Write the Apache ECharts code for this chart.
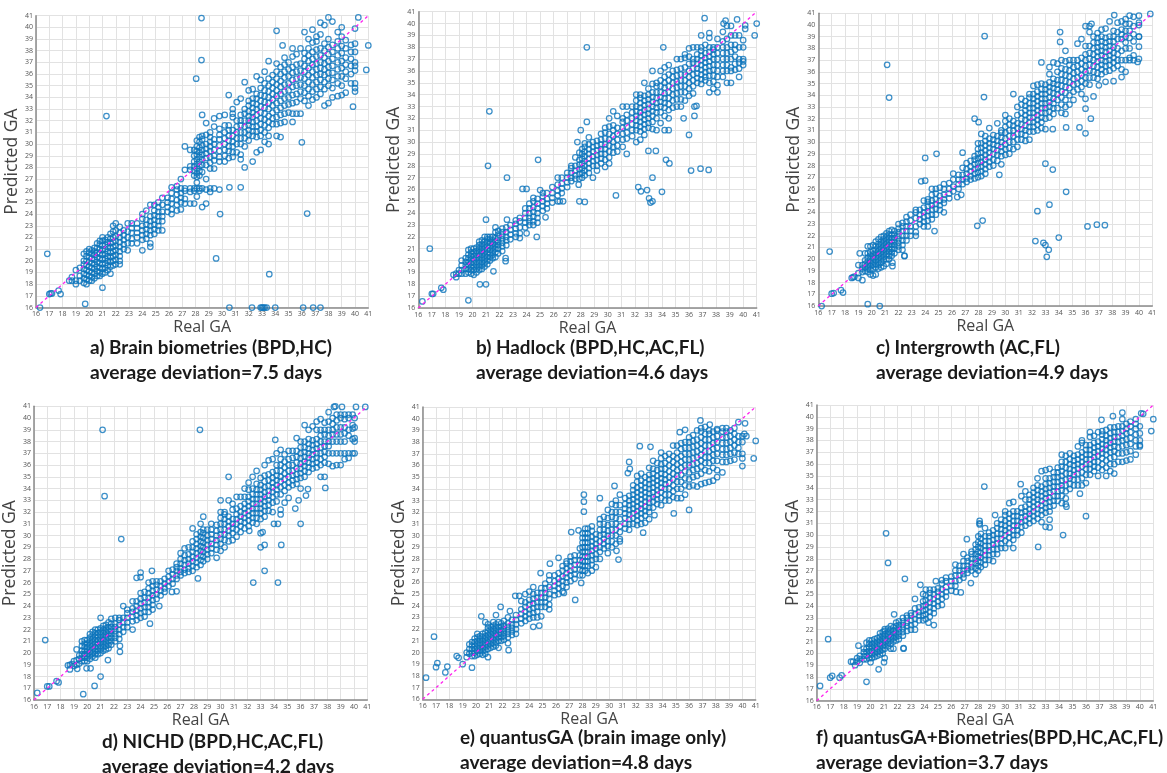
<!DOCTYPE html>
<html><head><meta charset="utf-8">
<style>html,body{margin:0;padding:0;background:#fff;overflow:hidden}#c{width:1167px;height:773px;filter:blur(0.35px)}</style>
<script src="https://cdn.jsdelivr.net/npm/echarts@6/dist/echarts.min.js"></script></head>
<body><div id="c"></div><script>
const xTitle='Real GA', yTitle='Predicted GA';
const identity=[[16,16],[41,41]];
const outA=[[16.3,16],[16.85,20.6],[17,17.15],[17.1,17.2],[17.2,17.2],[17.7,17.45],[17.85,17.15],[19.7,16.3],[21,17.7],[21.3,32.4],[28.05,35.6],[28.45,37.2],[28.45,40.8],[29.55,20.2],[29.85,24],[30.55,16],[31.4,26.3],[30.55,26.3],[32.25,16],[32.9,16],[33,16],[33.1,16],[33.2,16],[33.35,16],[33.55,18.85],[34,16],[36,30.15],[36.1,16],[36.4,24.05],[36.85,16],[37.4,16],[34.1,39.7],[38,40.85],[40.25,40.85],[41,38.45],[40.85,36.35],[39.85,33.2],[34.55,38.45]];
const outB=[[16.3,16.55],[16.85,21],[17,17.2],[17.1,17.2],[17.7,17.7],[17.85,17.55],[19.7,16.65],[20.55,18],[21,18],[21.55,19.1],[21,23.45],[21.25,32.6],[21.15,28],[22.55,27],[22.45,20.2],[22.45,19.95],[22.55,23.45],[24.75,22],[24,22.3],[23.7,26.05],[24,26.05],[24.85,28.5],[25.4,23.65],[25,25.95],[28.45,38],[28.45,31.7],[28,31],[27.75,30],[27.9,25],[27.85,26.4],[28.3,24.95],[26.7,25],[26.3,25],[26.45,25],[30.6,25.5],[32.25,26.2],[32.45,25.85],[32.9,25.95],[33.05,25.25],[33.15,24.9],[33.3,25],[33.3,27],[33.55,29.25],[33,29.25],[34,25.8],[34.3,28.5],[34.55,28.2],[36.15,27.6],[36.85,27.75],[37.45,27.65],[36,30.6],[36.4,32.2],[35.6,32],[36.4,33],[36.55,33.05],[34.1,38],[37.15,40.45],[39.55,40.35],[41,40],[40.85,39],[40.15,39.55],[40.15,39.85],[38.7,40.25],[38.55,40]];
const outC=[[16.25,16],[16.85,20.65],[17,17.05],[17.15,17.1],[17.7,17.35],[17.85,17.15],[18.5,18.4],[18.6,18.45],[19,18.4],[19.3,18.2],[19.7,16.15],[20.6,16],[19.1,20.5],[21.15,36.6],[21.3,33.8],[22.45,20.25],[22.45,20.3],[21.55,19.4],[21.55,19.7],[24,28.65],[24.85,29],[23.7,26.65],[24,26.7],[24.7,22.4],[28.45,39.05],[28.4,33.85],[27.7,32],[28,31.7],[27.9,22.85],[28.3,23.3],[29.55,27.2],[29.7,28.1],[25.4,24],[26.4,25.3],[26.7,25.5],[32.25,21.55],[32.85,21.4],[33,21.2],[33.25,20.8],[33.1,20.2],[34,21.85],[32.4,24.1],[33.3,24.65],[34.55,25.75],[33,28.15],[33.55,27.65],[36.15,22.8],[36.85,22.95],[37.45,22.9],[36,30.75],[35.55,31.25],[34.55,31.25],[33.55,31.1],[36.4,32],[36,32.85],[34.1,39.4],[34.1,38.55],[40.85,40.95],[38.15,40.85],[36.45,40.1],[36,39.9],[40,38.15],[40,39],[38.7,35.55],[39.9,36.85],[37,34.85],[37.5,35.15],[38.1,35.2],[32.7,36.8]];
const outD=[[16.25,16.6],[16.85,21.1],[17,17.15],[17.15,17.15],[17.7,17.6],[17.85,17.5],[19.7,16.5],[20.55,17.2],[21,18],[21.55,19.4],[18.7,18.6],[18.55,18.95],[18.7,19],[18.85,19.05],[19.25,18.65],[19.95,18.7],[20.25,18.7],[22.45,20.1],[22.45,20.6],[21.15,39],[21.3,33.35],[22.55,29.7],[28.45,39],[28.3,26.35],[30.6,35],[24.85,27],[24,26.85],[23.7,26.4],[24,26.45],[24.7,22.5],[25.4,24],[26.35,25.2],[26.7,25.25],[32.45,26],[34.3,26],[33.3,27],[33,29],[33.3,29.2],[34.55,29.2],[32.15,30.4],[33,30.2],[33.15,30.3],[34,31],[34.3,31],[36,31],[35.6,32.3],[36.4,33.4],[35.85,33],[36.55,33.95],[37.85,34.05],[34.1,38.15],[40.85,40.95],[40.15,40.95],[39.1,40.95],[38.6,41],[38.5,40.95]];
const outE=[[16.25,17.85],[16.85,21.35],[17,18.75],[17.1,19.1],[17.7,18.3],[17.85,18.8],[19.7,18.7],[19,19],[18.55,19.7],[18.7,19.55],[22.45,20.2],[22.4,20.8],[20.4,23.1],[21.85,23.9],[22.55,23.55],[24.75,22.3],[27.45,24.5],[26.6,25.1],[27.9,25.95],[22.95,24.85],[23.25,24.85],[24.85,26.8],[25.55,27.6],[27.15,30.3],[27.7,30.45],[28.1,33.5],[28.1,32.9],[28.1,32.05],[29.3,33.2],[30.4,34.25],[30.7,27.95],[30.55,28.7],[31.4,35.35],[31.55,35.7],[31.5,36.3],[32.3,37.65],[33.1,37.6],[32.55,30.25],[33.4,31.75],[34.85,31.9],[36,32.2],[35.3,38.85],[35.7,39.05],[36.85,39.85],[37.55,39.5],[40.2,39.6],[41,38.1],[40.85,36.6],[40,35.95],[40.3,38.5],[40.15,38.7]];
const outF=[[16.25,17.25],[16.85,21.2],[17,17.95],[17.15,18.1],[17.7,17.95],[17.85,18.15],[19.7,17.6],[18.55,19.3],[18.7,19.3],[18.85,19],[20.6,18.65],[21,19.25],[20,19.25],[19.1,20.65],[21.15,30.15],[21.3,27.65],[22.55,26.3],[22.45,20.45],[22.45,20.4],[21.75,23.3],[24.7,22.4],[24.3,22.6],[24.85,26.1],[23.7,25.8],[27.45,25.95],[26.7,25.15],[26.35,25.2],[27.15,29.65],[28.45,34.1],[28.1,31.2],[28.1,31],[28.1,30.9],[29.25,31.7],[30.6,28.9],[32.45,29],[34.3,30],[33,30.7],[33.3,30.65],[33.3,31.3],[36,31.6],[31.15,34.3],[37.15,39.75],[38,40.05],[38.7,40.35],[40.1,40.3],[40.25,40.25],[41,39.8],[40.85,38.8],[34.55,32.4],[35.55,33.5]];
// cloud columns: [real GA, predicted GA values read at that column]
const cloudA=[[18.5,18.3],[18.7,18.3,18.6],[19,18,18.3,19.2],[19.3,18.3,18.7,19.4],[19.6,18.1,18.5,18.9,19.3,19.7,20,20.6],[19.8,18,18.4,18.8,19.2,19.6,20,20.4,20.8],[20,18.3,18.7,19.1,19.5,19.9,20.3,20.7,21],[20.2,18.3,18.6,19,19.4,19.8,20.2,20.6,20.9],[20.4,18.5,18.9,19.3,19.7,20.1,20.5,20.8,21.1],[20.6,18.7,19.1,19.5,19.9,20.3,20.7,21.1,21.5],[20.8,18.7,19,19.4,19.8,20.2,20.6,21,21.4,21.7],[21,18.9,19.3,19.7,20.1,20.5,20.9,21.3,21.7,22],[21.2,19,19.4,19.8,20.2,20.6,21,21.4,21.8],[21.4,19.2,19.6,20,20.4,20.8,21.2,21.6,22],[21.6,18.9,19.5,19.9,20.3,20.7,21.1,21.5,21.9,22.3],[21.8,19.6,20,20.4,20.8,21.2,21.6,22,22.5,23],[22,19.7,20.1,20.5,20.9,21.3,21.7,22.1,22.6,23.2],[22.3,19.7,20,20.4,20.8,21.2,21.6,22,22.4,22.9],[22.6,21,21.4,21.8,22.2,22.6],[22.9,20.9,21.5,22,22.5,23.2],[23.2,21.5,21.9,22.4,22.8,23.2],[23.6,21.5,22,22.4,22.8,23.2],[24,20.9,21.8,22.2,22.6,23,23.6,24],[24.3,21.9,22.3,22.7,23.1,23.5,24.3],[24.6,21.2,21.5,22.2,22.6,23,23.4,23.8,24.8],[24.9,22.3,22.7,23.1,23.5,23.9,24.3,24.8],[25.2,22.6,23,23.4,23.8,24.2,24.6,25],[25.5,22.6,23.4,23.8,24.2,24.8,25.4],[25.9,24.2,24.6,25,25.4],[26.2,24,24.4,24.9,25.3,25.8,26.3],[26.6,24.3,24.8,25.2,25.7,26.1,26.4],[26.9,24.4,25,25.4,25.8,26.2,27],[27.2,24.9,25.3,26,26.2,27.8,29.8],[27.6,24.9,25.9,26.2,27.8,28.1,29.5],[27.9,24.9,26,26.2,27.3,27.7,28.1,28.5,29,29.5],[28.1,25.5,26.2,26.7,27.2,27.5,27.9,28.3,28.7,29.1,29.4,29.8,30.3],[28.3,26,26.2,27.3,27.7,28.1,28.5,28.9,29.3,29.7,30.2,30.6],[28.5,24.6,26.2,27.6,28.2,28.7,29.1,29.5,29.9,30.4,30.7,32.5],[28.8,24.9,26.1,27,28.2,28.8,29.2,29.6,30,30.8,31.8],[29.1,25.9,26.2,27.9,28.4,28.9,29.4,29.8,30.2,30.6,31],[29.4,26.2,27.9,28.6,29,29.5,30,30.4,31.5,32.2],[29.8,26.1,28.5,28.9,29.4,29.9,30.4,30.8,31.3,32.4],[30.2,28.5,29,29.5,30,30.5,31,31.6,32.5],[30.5,28.8,29.4,29.8,30.3,30.7,31.2,31.6,34.2],[30.8,28.9,29.3,29.8,30.2,30.7,31.2,32.3,33,32.6],[31.1,29.3,30,30.5,31,31.5,32,33.6],[31.4,28.7,29.1,30,30.5,31,31.6,32,32.5,33.9],[31.7,28,29.8,30.5,31,31.5,32,32.6,33,35.3],[32,30.3,30.8,31.2,31.6,32,32.4,32.8,33.3,33.7,34.6],[32.3,28.5,30.7,31.1,31.5,31.9,32.3,32.7,33.1,33.5,33.9,34.7],[32.6,29.3,30.6,31.1,31.5,32,32.5,33,33.4,33.9,34.3,35.8],[32.9,29.5,30.7,31.2,31.7,32.2,32.7,33.2,33.7,34.2,34.8,35.5],[33.2,30.2,31,31.6,32.1,32.6,33.1,33.6,34.1,34.6,35.2,36.2],[33.5,30,30.7,31.4,31.9,32.4,33,33.5,34,34.5,35,35.6,37.1],[33.8,31.7,32.2,32.7,33.3,33.8,34.3,34.8,35.3,35.9],[34.1,30.7,31.7,32.3,32.9,33.5,34.1,34.6,35.1,35.6,36.2,36.9],[34.4,31.8,32.5,33.1,33.7,34.3,34.9,35.4,36,36.6,30.6],[34.7,31.9,32.6,33.3,33.9,34.5,35.1,35.7,36.2,36.8,37.4],[35,32.7,33.4,34,34.6,35.2,35.8,36.4,37],[35.3,31.9,32.6,33.5,34.2,34.9,35.5,36.1,36.6,37.5,38.2],[35.6,32.6,33.6,34.3,35,35.6,36.2,36.8,37.7],[35.9,33.9,34.5,35.1,35.7,36.3,36.9,38.2,32.6],[36.2,33.7,34.4,35,35.6,36.2,36.7,37.3,37.8,39.6],[36.5,33.3,34.1,34.7,35.3,35.9,36.5,37.1,37.6,38.2,39],[36.8,33.8,34.5,35.1,35.7,36.2,36.8,37.3,37.9,38.7,39.8],[37.1,34,34.7,35.3,35.9,36.4,36.9,37.5,38.1,38.8,39.2],[37.4,34.3,34.9,35.5,36,36.5,37,37.6,38.2,39.4,40.4],[37.7,33.3,34.7,35.3,35.9,36.4,36.9,37.4,38,38.6,40.2],[38,33.5,35,35.6,36.1,36.6,37.1,37.7,38.3,39],[38.3,34,34.8,35.5,36.1,36.7,37.3,37.9,38.5,40.5],[38.7,34.1,35.2,35.8,36.4,37,37.6,38.2,38.8,39.6],[39,34.2,35,35.8,36.5,37.1,37.8,38.4,39.2,40],[39.3,34.4,35.6,36.2,36.8,37.4,38.2,38.9],[39.7,35.2,36,36.7,37.3,37.9,38.5],[40,34.5,34.8,35.2,36.3,36.7,37,37.9,38.6,39.9]];
const cloudB=[[18.6,18.8],[18.8,18.6,18.9],[19,18.9,19.2],[19.2,18.9,19.2,19.6,20],[19.5,18.9,19.3,19.6,19.9,20.2],[19.7,19,19.3,19.6,19.9,20.2,20.5,20.9],[19.9,18.9,19.2,19.5,19.8,20.1,20.4,20.7,21],[20.1,18.8,19.2,19.5,19.8,20.1,20.4,20.7,21],[20.3,19,19.3,19.6,19.9,20.2,20.5,20.8,21.1],[20.5,19.2,19.5,19.8,20.1,20.4,20.7,21,21.3,21.6],[20.7,19.3,19.6,19.9,20.2,20.5,20.8,21.1,21.4,21.7],[20.9,19.5,19.8,20.1,20.4,20.7,21,21.3,21.6,22],[21.1,19.7,20,20.3,20.6,20.9,21.2,21.5,21.8,22],[21.3,20,20.3,20.6,20.9,21.2,21.5,21.8,22],[21.5,20.2,20.5,20.8,21.1,21.4,21.7,22],[21.7,20.3,20.7,21,21.3,21.6,21.9,22.4,22.8],[21.9,20.6,21,21.3,21.6,21.9,22.2,22.5],[22.2,20.8,21.2,21.5,21.8,22.1,22.4,22.7],[22.5,21.3,21.7,22,22.4,22.8],[22.8,21.8,22.2,22.6,23],[23.2,22,22.3,22.7,23.1,23.4],[23.5,21.9,22.3,22.8,23.3,23.6],[23.9,22.8,23.2,23.6,24,24.4],[24.2,23,23.3,23.6,24,24.4,24.8],[24.5,23,23.3,23.7,24.1,24.5,25,25.3],[24.8,23.2,23.6,24,24.4,24.8,25.2],[25.2,24.2,24.6,25,25.4,25.7],[25.5,24.4,24.8,25.2,25.7],[25.9,24.9,25.3,25.7,26.2],[26.3,25.5,25.9,26.4,27],[26.6,25.7,26.1,26.5,27],[27,26.2,26.6,27,27.4],[27.3,26.7,27,27.4,27.8,28],[27.6,26.9,27.2,27.6,28,28.7],[27.9,26.9,27.3,27.7,28.1,28.5,29.1],[28.1,27,27.4,27.8,28.2,28.6,29,29.4],[28.3,27.2,27.6,28,28.4,28.8,29.2,29.6,29.9],[28.6,27.4,27.8,28.2,28.6,29,29.4,29.8,30.4],[28.9,27,28,28.4,28.8,29.2,29.6,30],[29.2,27.6,28,28.5,28.9,29.3,29.7,30.1],[29.5,28.2,28.6,29,29.4,29.8,30.2,30.7],[29.8,27.9,28.5,29,29.4,29.8,30.3,30.8,31.2],[30.1,28.2,28.7,29.2,29.7,30.2,30.7,31.3,32],[30.4,29.1,29.6,30,30.5,31,31.4,32.6],[30.7,29.2,29.7,30.2,30.7,31.2,32.2],[31.1,29.6,30.2,30.7,31.2,31.7,32,33],[31.4,29,30.3,30.8,31.3,31.8,32.3,33],[31.8,30.5,31,31.5,32,32.5,33],[32.1,30,31,31.4,31.8,32.2,32.6,33,33.5,34],[32.4,30.2,30.9,31.3,31.7,32.1,32.5,32.9,33.3,33.7,34],[32.7,30.6,31.1,31.5,31.9,32.3,32.7,33.1,33.5,33.9,35],[33,31.2,31.6,32,32.4,32.8,33.2,33.6,34,34.5],[33.3,31.1,31.7,32.2,32.6,33,33.4,33.8,34.2,34.9,36],[33.6,31,32,32.5,32.9,33.3,33.7,34.2,34.7,35],[33.9,31.6,32.5,33,33.4,33.8,34.2,34.7,35.2,36],[34.2,31,32.2,32.9,33.3,33.7,34.1,34.6,35,35.5,36.3],[34.5,31,32,32.7,33.2,33.7,34.2,34.7,35.2,35.7,36.5],[34.8,32.9,33.5,34,34.5,35,35.5,36],[35.1,33,33.6,34.1,34.6,35.1,35.6,36.1,37],[35.4,33,33.6,34.2,34.7,35.2,35.7,36.2,37],[35.7,33.5,34.2,34.7,35.2,35.7,36.3,37.1,37.4],[36,33.9,34.5,35,35.5,36,36.6,37.2,37.9],[36.3,34.1,34.7,35.2,35.7,36.2,36.7,37,38],[36.6,35,35.4,35.8,36.2,36.6,37,37.4,38],[36.9,34.9,35.3,35.7,36.1,36.5,36.9,37.3,37.7,38,39],[37.2,35.2,35.5,35.9,36.3,36.7,37.1,37.5,38.2],[37.5,34.2,35,35.6,36,36.4,36.8,37.2,37.6,38,39.2,38.8],[37.8,34.5,35.1,35.6,36.1,36.5,37,37.4,37.8,38],[38.1,34.2,34.8,35.5,36,36.5,37,37.5,38,38.7],[38.5,35.5,36,36.5,37,37.5,38,38.5,39.3],[38.8,35,36,36.5,37,37.5,38,38.7,39.8],[39.1,35,36,36.3,37,37.6,38.2,39,39.8],[39.4,36.1,36.6,37.2,37.8,38.2,39],[39.7,35.5,36.2,36.7,37,38,39],[40,36.5,36.8,37,38,38.6]];
const cloudC=[[18.7,18.5],[19,18.8,19.5],[19.3,18.9,19.2,19.5],[19.5,19,19.3,19.6,19.9,20.5],[19.7,18.9,19.2,19.5,19.8,20.1,20.5,21.1],[19.9,18.7,19.1,19.4,19.7,20,20.3,20.6,21.1],[20.1,18.6,19.2,19.5,19.8,20.1,20.4,20.7,21.2],[20.3,18.7,19.3,19.6,19.9,20.2,20.5,20.8,21.1,21.5],[20.5,19.2,19.5,19.8,20.1,20.4,20.7,21,21.3,21.7],[20.7,19.3,19.7,20,20.3,20.6,20.9,21.2,21.5,21.9],[20.9,19.4,19.9,20.2,20.5,20.8,21.1,21.4,21.7,22],[21.1,19.6,20,20.4,20.7,21,21.3,21.6,21.9,22.2],[21.3,20,20.3,20.6,20.9,21.2,21.5,21.8,22.1,22.4],[21.5,20.3,20.6,20.9,21.2,21.5,21.8,22.1,22.5],[21.7,20.5,20.9,21.2,21.5,21.8,22.1,22.4],[22,20.8,21.1,21.4,21.7,22,22.3,22.6,23],[22.3,20.8,21.2,21.6,22,22.4,22.8,23.1],[22.6,21.6,22,22.4,22.8,23.2,23.6],[22.9,22,22.4,22.8,23.3,23.8],[23.3,22,22.3,22.8,23.5,24,24.2],[23.6,23,23.4,23.8,24.2],[23.9,22.8,23.2,23.6,24,24.4,25],[24.2,22.8,23.3,23.7,24.1,24.5,24.9,25.1],[24.5,23.4,23.8,24.2,24.6,25,25.5,26],[24.8,23.8,24.3,24.7,25.1,25.6,26],[25.1,24.2,24.6,25,25.4,26.1],[25.4,24.8,25.1,25.5,26,26.4],[25.8,25.2,25.6,26,26.5],[26.1,25.8,26.2,26.8,27.3],[26.5,26,26.4,26.8,27.2],[26.8,26.4,26.8,27.2,27.8,29.1],[27.1,26.6,26.9,27.3,27.7,28.2],[27.4,26.8,27.1,27.5,27.9,28.4],[27.7,26.9,27.3,27.7,28.1,28.5,28.8],[27.95,27,27.4,27.8,28.2,28.6,29,29.4,29.9],[28.2,27.1,27.5,27.9,28.3,28.7,29.1,29.5,29.9,30.7],[28.5,27.3,27.7,28.1,28.5,28.9,29.3,29.7,30.1,30.5],[28.8,27.9,28.3,28.7,29.1,29.5,29.9,30.3,31.2],[29.1,28,28.5,29,29.4,29.8,30.2,30.6],[29.4,28.4,28.9,29.3,29.7,30.1,30.5,31.6],[29.7,28.8,29.2,29.6,30,30.4,30.8,31],[30,28.9,29.4,29.8,30.3,30.8,31.3,31.8,32.3],[30.3,29,29.5,30,30.5,31,31.5,32],[30.6,29.4,30,30.5,31,31.4,31.8,34.1],[30.9,29.6,30.2,30.7,31.2,31.6,32.3,33],[31.2,30.2,30.7,31.1,31.5,32,32.5,33.2,33.7],[31.5,30.1,30.6,31,31.4,31.9,32.3,32.7,33.1,33.5],[31.8,30.2,30.9,31.3,31.7,32.1,32.5,32.9,33.3,33.8,34.1],[32.1,30.9,31.3,31.7,32.1,32.5,32.9,33.3,33.7,34.1,34.8],[32.4,31,31.5,31.9,32.3,32.7,33.1,33.5,33.9,34.3,34.9],[32.7,31.2,31.7,32.1,32.5,32.9,33.3,33.7,34.1,34.5,35],[33,31.1,32,32.5,32.9,33.3,33.7,34.1,34.5,34.9],[33.3,32.1,32.6,33,33.4,33.8,34.3,34.7,35.1,35.8,36.4],[33.6,32.4,32.9,33.3,33.7,34.2,34.6,35,35.4,36.8],[33.9,32.9,33.6,34.1,34.5,34.9,35.3,36,36.7],[34.2,32.5,33.2,33.8,34.3,34.8,35.3,35.8,36.3,37],[34.5,32.4,33,33.6,34.2,34.7,35.2,35.7,36.2,36.9,37.8],[34.8,33.2,34,34.6,35.1,35.6,36.1,36.6,37],[35.1,33.6,34.3,34.9,35.4,35.9,36.4,37],[35.4,34.5,35,35.5,36,36.5,37,38.4],[35.7,34.1,34.7,35.2,35.7,36.2,36.7,37.2,38.8],[36,33.7,35,35.5,36,36.5,37,37.5,38.2],[36.3,34.9,35.5,36.1,36.6,37.1,37.6,38.2,39.4,39.9],[36.6,33.9,35.5,36,36.5,37,37.5,38,38.5,39],[36.9,35.4,35.9,36.4,36.9,37.3,37.7,38.1,38.5,38.9,39.3],[37.2,35.8,36.2,36.6,37,37.4,37.8,38.2,38.6,39,39.6],[37.5,36,36.5,36.9,37.3,37.7,38.1,38.5,38.9,39.7],[37.8,36.1,36.6,37,37.4,37.8,38.2,38.6,39,40.3],[38.1,36.3,36.8,37.2,37.6,38.1,38.6,39,39.5],[38.4,36.5,37,37.5,38,38.8,39.4,40.2],[38.7,36.2,37,37.8,38.8,39.2,39.6,40.3],[39,36,37,38,38.5,39,39.5,40.1,40.5],[39.3,37,37.2,38,38.9,39.5,40.1,40.8],[39.6,37,37.4,38.6,39.2,39.9,40.7],[40,37.1,39,40,40.2,40.8]];
const cloudD=[[19,18.9,19.3],[19.2,19,19.4,20.3],[19.4,19.1,19.5,19.8],[19.6,19.3,19.6,19.9,20.2,20.6,21],[19.8,19.3,19.6,19.9,20.2,20.5,20.8,21.1],[20,19.3,19.6,19.9,20.2,20.5,20.8,21.1],[20.2,19.5,19.8,20.1,20.4,20.7,21,21.3,21.6],[20.4,19.7,20,20.3,20.6,20.9,21.2,21.5,21.8],[20.6,19.6,19.9,20.2,20.5,20.8,21.1,21.4,21.7,22],[20.8,19.9,20.2,20.5,20.8,21.1,21.4,21.7,22],[21,20,20.3,20.6,20.9,21.2,21.5,21.8,22.1,23],[21.2,20.2,20.5,20.8,21.1,21.4,21.7,22,22.3],[21.4,20.3,20.6,20.9,21.2,21.5,21.8,22.1,22.4],[21.6,20.4,20.7,21,21.3,21.6,21.9,22.2,22.6],[21.8,20.7,21,21.3,21.6,21.9,22.2,22.5,22.9],[22.1,21,21.3,21.6,21.9,22.2,22.5,23],[22.4,21.2,21.6,22,22.4,22.8,23],[22.7,21.8,22.2,22.6,23,24],[23,22.2,22.6,23,23.4,23.7],[23.4,22,22.7,23.1,23.5,24.4,23.8],[23.7,22.8,23.2,23.6,24,24.4],[24,23,23.4,23.8,24.2,24.6,25.1],[24.3,23.1,23.5,23.9,24.3,24.7,25.2],[24.6,23.5,23.9,24.3,24.7,25.1,25.5,26],[24.9,23.7,24.1,24.5,24.9,25.3,25.7,26.1],[25.2,24.6,25,25.4,25.8,26.1],[25.5,24.9,25.3,25.7,26.1],[25.8,25.2,25.5,25.9,26.3],[26.1,25.7,26.1,26.5,27],[26.4,25.9,26.3,26.7,27.1],[26.7,26.3,26.6,27,27.3,27.6],[27,26.6,26.9,27.2,27.6,28,28.5],[27.3,26.8,27.1,27.5,27.9,28.3,28.9],[27.6,26.9,27.2,27.6,28,28.4,29],[27.9,27,27.4,27.8,28.2,28.6,29,29.5,30.6],[28.2,27.3,27.7,28.1,28.5,28.9,29.3,29.7,30.1],[28.5,27.5,27.9,28.3,28.7,29.1,29.5,29.9,30.3,31],[28.7,27.8,28.2,28.6,29,29.4,29.8,30.2,30.5,31.6],[29,28,28.4,28.8,29.2,29.6,30,30.5],[29.3,28.5,28.9,29.3,29.7,30.1,30.5,31],[29.7,28.1,28.8,29.2,29.6,30,30.4,30.9],[30,28.7,29.3,29.7,30.1,30.5,31,31.5,32,33],[30.3,29,29.6,30.1,30.5,31,31.4,31.8,32],[30.6,29.5,30,30.4,30.8,31.2,31.6,33],[30.9,29.6,30.2,30.6,31,31.4,32.2,32.7],[31.2,29.9,30.5,31,31.4,31.8,32.3,33.3],[31.5,30.3,30.8,31.2,31.6,32,32.5,33.3],[31.8,30.6,31.1,31.5,31.9,32.3,32.7,33.3,34],[32.1,30.8,31.3,31.7,32.1,32.5,32.9,33.3,33.9,34.5],[32.4,31.1,31.5,31.9,32.3,32.7,33.1,33.5,34,35],[32.7,31,31.5,31.9,32.3,32.7,33.1,33.5,33.9,34.4,35.5],[33,31.4,31.9,32.3,32.7,33.1,33.5,33.9,34.3,34.9],[33.3,31.6,32.1,32.5,32.9,33.3,33.7,34.1,34.6,35.1,36],[33.6,32.1,32.6,33,33.4,33.8,34.2,34.7,35.2,36.4],[33.9,32,32.8,33.3,33.7,34.1,34.5,34.9,35.4,36.5],[34.2,32.9,33.5,33.9,34.3,34.7,35.1,35.5,36,37],[34.5,31.8,32.2,33.5,34.1,34.6,35,35.5,36,36.5,37.3],[34.8,32.8,33.8,34.3,34.8,35.3,35.8,36.3,36.9],[35.1,33.2,34.1,34.5,35,35.5,36,36.5,37.2],[35.4,34.3,34.7,35.1,35.5,36,36.6,37.2],[35.7,34.4,34.8,35.2,35.7,36.2,36.7,37.2,38.3],[36,34,34.9,35.3,35.7,36.1,36.6,37,37.5,38],[36.3,35,35.5,35.9,36.3,36.7,37.1,37.5,38,39.4],[36.6,35.4,35.8,36.2,36.6,37,37.4,37.8,38.2,39],[36.9,35.7,36.1,36.5,36.9,37.3,37.7,38.1,39.3],[37.2,35.8,36.2,36.6,37,37.4,37.8,38.2,39,39.7],[37.5,35,36,36.5,37,37.5,38,38.5,39,39.9],[37.8,35,36.2,36.7,37.1,37.6,38,38.6,39,39.6],[38.1,36.1,37,37.6,38,38.5,39,39.7,40.5],[38.4,35.9,37,38,38.6,39,39.5,40],[38.7,36,37,38,38.6,39.2,39.8,40.3],[39,36,37,38,38.6,39.2,40,40.3],[39.3,36.5,37,38,38.7,39.2,39.9,40.3],[39.6,36.6,37,38.5,39,40,40.3],[39.9,37,38.2,39.1,39.4,40.3],[40.05,37,38,38.3,39.2,40]];
const cloudE=[[19.3,19.6,20],[19.5,19.9,20.3,20.7],[19.7,19.7,20,20.3,20.6,20.9],[19.9,19.7,20,20.3,20.6,20.9,21.2],[20.1,19.8,20.1,20.4,20.7,21,21.3,21.6],[20.3,19.9,20.2,20.5,20.8,21.1,21.4],[20.5,19.8,20.1,20.4,20.7,21,21.3,21.6],[20.7,19.9,20.2,20.5,20.8,21.1,21.4,21.7,22.6],[20.9,19.6,20.3,20.6,20.9,21.2,21.5,21.8,22.1,22.4],[21.1,20.4,20.7,21,21.3,21.6,21.9,22.2],[21.3,20.5,20.8,21.1,21.4,21.7,22,22.3,22.6],[21.5,20.6,20.9,21.2,21.5,21.8,22.1,22.4,23.2],[21.7,20.4,21,21.3,21.6,21.9,22.2,22.6],[21.9,21,21.3,21.6,21.9,22.2,22.5],[22.1,21.1,21.4,21.7,22,22.3,22.7],[22.4,21.3,21.6,21.9,22.2,22.5,23],[22.7,21.5,21.8,22.1,22.4,22.8],[23,21.6,22,22.4,22.8,23.2],[23.4,22.5,22.9,23.3,23.7,24.4],[23.7,22.7,23.1,23.5,23.9,24.3,25],[24,22.9,23.3,23.7,24.1,24.5,25.2],[24.3,22.2,23,23.4,23.8,24.2,24.6,25,25.6],[24.6,23,23.5,23.9,24.3,24.7,25.1],[24.9,23.1,23.9,24.3,24.7,25.1,25.5],[25.2,23.9,24.3,24.7,25.1,25.5,25.9],[25.5,23.7,24.1,24.6,25,25.6,26.2,26.6],[25.9,24.9,25.3,25.7,26.1,26.6],[26.2,25,25.5,25.9,26.3,26.8,28.1],[26.5,25.2,25.7,26.1,26.5,27,27.4],[26.8,25.6,26,26.4,26.8,27.2,27.6,27.8],[27.1,26.1,26.6,27,27.4,27.8,28.2],[27.4,26.3,26.7,27.1,27.5,27.9,28.3],[27.8,26.6,27.1,27.5,27.9,28.3,28.9],[28,26.6,27,27.4,27.8,28.2,28.6,29,29.4,29.8,30.2],[28.2,27,27.4,27.8,28.2,28.6,29,29.4,29.8,30.2,30.6],[28.4,26.8,27.4,27.8,28.2,28.6,29,29.4,29.8,30.2,30.6],[28.7,27,27.5,27.9,28.3,28.7,29.1,29.5,29.9,30.4,30.8],[29,27.3,28,28.4,28.9,29.3,29.7,30.1],[29.3,28,28.6,29,29.5,30,30.5,31,31.4],[29.6,28.9,29.3,29.7,30.1,30.5,31,31.6],[29.9,28.5,29.1,29.5,30,30.4,30.9,31.5,32.2],[30.2,29,29.5,30,30.5,31,31.6,32,32.7],[30.5,29.3,30,30.5,31,31.5,32,32.6,33],[30.8,29.5,29.7,30.3,30.8,31.4,32,32.6,33.5],[31.2,30.6,31,31.5,31.9,32.3,32.7,33.2],[31.5,30.5,31,31.4,31.8,32.2,32.6,33,33.4],[31.8,31,31.5,31.9,32.3,32.7,33.1,33.5,33.9,34.3],[32.1,30.9,31.3,31.7,32.1,32.5,32.9,33.3,33.7,34.1,34.6,35.1],[32.4,31,31.5,31.9,32.3,32.7,33.1,33.5,33.9,34.3,34.7,35.3],[32.7,31.1,31.7,32.1,32.5,32.9,33.3,33.7,34.1,34.5,35],[33,31.4,32,32.4,32.8,33.2,33.6,34,34.4,34.8,35.2,35.8],[33.3,32.4,32.9,33.3,33.7,34.1,34.5,34.9,35.3,35.7,36.4],[33.6,32.7,33.1,33.5,33.9,34.3,34.7,35.1,35.6,36.2],[33.9,32.6,33.2,33.7,34.1,34.5,34.9,35.3,35.7,36.1,36.6,37.1],[34.2,33,33.5,34,34.4,34.8,35.2,35.7,36.2,36.8],[34.5,33,33.5,34,34.5,35,35.5,36,36.5,37],[34.8,33.3,33.8,34.3,34.8,35.3,35.8,36.3,36.8,37.7],[35.1,33.2,34,34.6,35.1,35.6,36.1,36.6,37.1,37.7],[35.4,33.2,34,34.6,35.2,35.8,36.3,36.8,37.4,37.9],[35.7,33.5,34.3,34.9,35.5,36,36.5,37,37.5,38],[36,34.2,34.8,35.4,36,36.5,37,37.5,38,38.4],[36.3,34.3,35,35.6,36.1,36.6,37.1,37.6,38.1,38.6],[36.6,34.2,35.1,35.7,36.2,36.7,37.2,37.7,38.2,39],[36.9,34.4,35.3,35.9,36.4,36.9,37.4,37.9,38.4,38.9,39.2],[37.2,34.5,35.6,36.2,36.7,37.2,37.7,38.2,38.7,39.3],[37.5,34.6,35.5,36.2,36.7,37.2,37.7,38.2,38.7,39],[37.8,34.7,35.8,36.4,36.9,37.4,37.9,38.4,38.9],[38.1,35,35.6,36.4,37,37.5,38,38.5,39,39.1],[38.5,35.4,36.3,36.9,37.4,37.9,38.4,38.9,39.2],[38.8,36.3,36.9,37.4,37.9,38.4,38.9,39.2],[39.1,36.4,37,37.5,38,38.5,39],[39.4,36.5,37.1,37.7,38.2,38.7,39.2],[39.7,37,37.5,38,38.5,39.7],[40,36.6,37,38,38.5]];
const cloudF=[[19,19.3,19.6],[19.2,19.2,19.5,19.8],[19.5,19.5,19.8,20.1,20.4],[19.7,19.5,19.8,20.1,20.4,20.9],[19.9,19.6,19.9,20.2,20.5,20.8,21.1],[20.1,19.6,19.9,20.2,20.5,20.8,21.1],[20.3,19.7,20,20.3,20.6,20.9,21.2],[20.5,19.8,20.1,20.4,20.7,21,21.3],[20.7,19.9,20.2,20.5,20.8,21.1,21.4,21.7],[20.9,20,20.3,20.6,20.9,21.2,21.5,21.8],[21.05,19.6,20.4,20.7,21,21.3,21.6,21.9,22.05],[21.3,20.6,20.9,21.2,21.5,21.8,22.1],[21.5,20.4,20.8,21.1,21.4,21.7,22,22.3],[21.7,20.4,21,21.3,21.6,21.9,22.2],[21.9,21.1,21.4,21.7,22,22.3,22.6],[22.1,21.2,21.5,21.8,22.1,22.4,22.7],[22.4,21.5,21.8,22.1,22.4,22.7,23],[22.7,21.9,22.3,22.6,23,23.2],[23,22,22.4,22.8,23.2,23.4],[23.3,22,22.5,22.9,23.3,23.8,24.6],[23.6,22.8,23.2,23.5,23.9],[23.9,22.8,23.2,23.6,24,24.4,25],[24.1,22.9,23.3,23.7,24.1,24.5,24.9,25.4],[24.4,23.1,23.5,23.9,24.3,24.7,25.1,25.4],[24.7,23.4,23.8,24.2,24.6,25,25.4],[25,24,24.4,24.8,25.2,25.5],[25.3,24.1,24.6,25,25.4,25.9,26.2],[25.6,24.8,25.2,25.6,26.1,26.4],[26,25.3,25.7,26.1,26.5],[26.3,25.7,26.1,26.6,27,27.5],[26.6,26.2,26.6,27,27.4],[26.9,26.4,26.7,27,27.4,27.8,28.4],[27.2,26.8,27.1,27.4,27.8,28.1],[27.5,27,27.3,27.6,28,28.4,28.6],[27.8,26.7,27.2,27.6,28,28.4,28.8,29.2],[28,27,27.4,27.8,28.2,28.6,29,29.4,29.9],[28.2,27.3,27.7,28.1,28.5,28.9,29.3,29.7,30.1],[28.5,27.5,27.9,28.3,28.7,29.1,29.5,29.9,30.6],[28.8,27.9,28.3,28.7,29.1,29.5,29.9,30.2],[29.1,27.8,28.4,28.8,29.2,29.6,30,30.4],[29.4,28.4,28.8,29.3,29.7,30.1,30.6,31],[29.7,28.9,29.3,29.7,30.1,30.5,30.9,31.3],[30,28.9,29.5,30,30.4,30.8,31.2,31.7,32],[30.3,29.3,29.8,30.2,30.6,31,31.4,31.8,32.7],[30.6,29.6,30,30.4,30.8,31.2,31.6,32,32.8],[30.9,30,30.4,30.8,31.2,31.6,32],[31.2,30.2,30.7,31.1,31.5,31.9,32.3,33.3],[31.5,30.8,31.2,31.6,32,32.4,33,33.7],[31.8,31,31.4,31.8,32.2,32.6,33,33.4],[32.1,31.2,31.6,32,32.4,32.8,33.2,33.6,34],[32.4,31.4,31.8,32.2,32.6,33,33.4,33.8,34.2,34.8],[32.7,31.1,31.7,32.1,32.5,32.9,33.3,33.7,34.1,35.4],[33,31.9,32.3,32.7,33.1,33.5,33.9,34.3,34.8,35.5],[33.3,32,32.4,32.8,33.2,33.6,34,34.4,34.8,35.6],[33.6,32.5,32.9,33.3,33.7,34.1,34.5,34.9,35.3],[33.9,32.9,33.3,33.7,34.1,34.5,34.9,35.3,35.7],[34.2,32.7,33.3,33.8,34.2,34.6,35,35.4,35.8,36.2,36.8],[34.5,32.6,33.1,33.7,34.2,34.7,35.2,35.7,36.2,36.7],[34.8,33.9,34.3,34.8,35.2,35.6,36,36.4,36.9],[35.1,34.2,34.7,35.1,35.5,35.9,36.3,36.7],[35.4,34.2,34.7,35.2,35.6,36,36.4,36.8,37.5],[35.7,34.2,34.8,35.3,35.8,36.2,36.6,37,37.8,38],[36,34.4,35.1,35.6,36,36.4,36.8,37.2,37.6],[36.3,35.1,35.6,36,36.4,36.8,37.2,37.6,38.3,38.7],[36.6,35.4,35.8,36.2,36.6,37,37.4,37.8,38.4],[36.9,35,35.7,36.2,36.7,37.1,37.5,37.9,38.7],[37.2,35.5,36,36.5,36.9,37.3,37.7,38.1,38.5,38.8],[37.5,35,35.7,36.3,36.8,37.2,37.6,38,38.4,38.9],[37.8,35.4,36,36.5,37,37.4,37.8,38.2,38.6,39.1],[38.1,35.2,36,36.6,37.1,37.5,37.9,38.3,38.7,39.1],[38.4,36.2,36.9,37.4,37.9,38.3,38.7,39.2],[38.7,36.2,36.9,37.5,38,38.4,38.8,39.2,39.8],[39,36.3,37,37.6,38.1,38.6,39,39.4],[39.3,36.4,37.1,37.7,38.2,38.7,39.2,39.6],[39.7,36.8,37.5,38,38.5,39,39.4,39.8],[40,37.5,37.6,38,38.6,39.2]];
const allOut=[outA,outB,outC,outD,outE,outF], allCloud=[cloudA,cloudB,cloudC,cloudD,cloudE,cloudF];
const titles=['a) Brain biometries (BPD,HC)','b) Hadlock (BPD,HC,AC,FL)','c) Intergrowth (AC,FL)','d) NICHD (BPD,HC,AC,FL)','e) quantusGA (brain image only)','f) quantusGA+Biometries(BPD,HC,AC,FL)'];
const deviations=['average deviation=7.5 days','average deviation=4.6 days','average deviation=4.9 days','average deviation=4.2 days','average deviation=4.8 days','average deviation=3.7 days'];
const boxes=[[36,368.3,15.7,307.5],[418.3,756.7,11.7,308],[818.3,1152.3,13.3,306],[33.3,367.3,406.3,700],[422.7,755.7,407,699.3],[816.7,1153.3,405,700.7]];
const textPos=[[90,348,373],[476,348,373],[876,348,373],[102,742,767],[460,738,763],[816,738,763]];
const chart=echarts.init(document.getElementById('c'),null,{renderer:'canvas'});
const grid=[],xAxis=[],yAxis=[],series=[],graphic=[];
boxes.forEach((b,i)=>{
 grid.push({left:b[0],top:b[2],width:b[1]-b[0],height:b[3]-b[2],containLabel:false});
 const ax={type:'value',min:16,max:41,interval:1,nameLocation:'middle',nameTextStyle:{fontFamily:'Open Sans',fontSize:17.5,color:'#444'},
  axisLine:{show:true,lineStyle:{color:'#8a8a8a',width:1.5}},axisTick:{show:false},
  axisLabel:{show:true,fontSize:7,color:'#555',fontFamily:'Open Sans',margin:3,showMinLabel:true,showMaxLabel:true,hideOverlap:false},
  splitLine:{show:true,lineStyle:{color:'#e2e2e2',width:1}}};
 xAxis.push({...ax,gridIndex:i,name:xTitle,nameGap:12,nameTextStyle:{fontFamily:'Open Sans',fontSize:16,color:'#444'}});
 yAxis.push({...ax,gridIndex:i,name:yTitle,nameGap:2});
 const pts=allOut[i].concat(allCloud[i].flatMap(([x,...ys])=>ys.map(y=>[x,y])));
 series.push({type:'scatter',xAxisIndex:i,yAxisIndex:i,data:pts,clip:false,symbol:'circle',symbolSize:5.5,large:false,progressive:0,itemStyle:{color:'rgba(0,0,0,0)',borderColor:'#0d74bb',borderWidth:1.25},silent:true});
 series.push({type:'line',xAxisIndex:i,yAxisIndex:i,data:identity,symbol:'none',z:5,silent:true,lineStyle:{color:'#ff22ee',width:1.3,type:[3,3]}});
 const p=textPos[i];
 [[titles[i],p[1],18.9],[deviations[i],p[2],19.2]].forEach(t=>graphic.push({type:'text',x:p[0],y:t[1],style:{text:t[0],fontFamily:'Lato',fontWeight:'bold',fontSize:t[2],fill:'#1a1a1a',verticalAlign:'middle',align:'left'}}));
});
chart.setOption({animation:false,grid,xAxis,yAxis,series,graphic});
</script></body></html>
